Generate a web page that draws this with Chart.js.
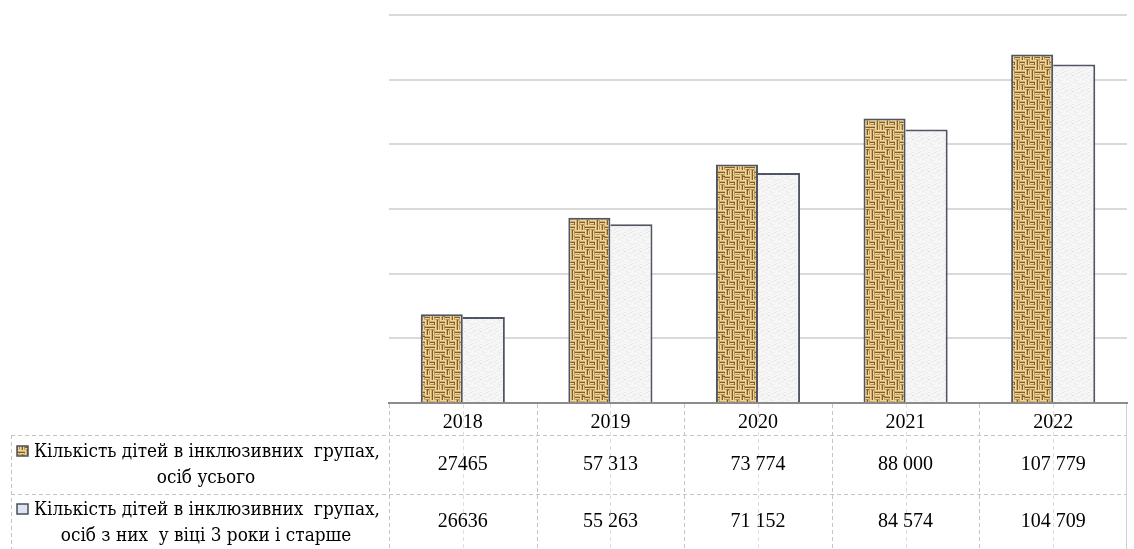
<!DOCTYPE html>
<html>
<head>
<meta charset="utf-8">
<script src="https://cdn.jsdelivr.net/npm/chart.js@4.4.1/dist/chart.umd.min.js"></script>
<style>
  html, body { margin: 0; padding: 0; background: #ffffff; }
  #wrap { width: 1134px; height: 549px; position: relative; }
</style>
</head>
<body>
<div id="wrap"><canvas id="c" width="1134" height="549"></canvas></div>
<script>
// Years shown along the category axis and in the table header
const years = ['2018', '2019', '2020', '2021', '2022'];
// Children in inclusive groups, total
const totalKids = [27465, 57313, 73774, 88000, 107779];
// Of them, aged 3 and older
const olderKids = [26636, 55263, 71152, 84574, 104709];
// Whether a table cell groups its thousands with a space
const groupDigits = [false, true, true, true, true];
// Row captions of the data table (two lines each)
const seriesNames = [
  ['Кількість дітей в інклюзивних  групах,', 'осіб усього'],
  ['Кількість дітей в інклюзивних  групах,', 'осіб з них  у віці 3 роки і старше']
];
// Value axis ticks
const yMax = 120000;
const yStep = 20000;

const SERIF = '"Liberation Serif", "DejaVu Serif", serif';
const CAPTION_FONT = '"DejaVu Serif", serif';

function fmt(v, group) {
  const s = String(v);
  return group ? s.replace(/\B(?=(\d{3})+(?!\d))/g, ' ') : s;
}

// Woven burlap fill: a 20px tile of short strands over a tan ground
function burlapPattern() {
  const c = document.createElement('canvas');
  c.width = 20; c.height = 20;
  const g = c.getContext('2d');
  g.fillStyle = '#d2ad69';
  g.fillRect(0, 0, 20, 20);
  const light = '#efd6a0', dark = '#7f5d2b', mid = '#b58f4e';
  function horiz(ox, oy) {
    g.fillStyle = light; g.fillRect(ox, oy, 5, 1); g.fillRect(ox, oy + 3, 4, 1);
    g.fillStyle = dark; g.fillRect(ox, oy + 2, 5, 1);
    g.fillStyle = mid; g.fillRect(ox + 1, oy + 4, 3, 1);
  }
  function vert(ox, oy) {
    g.fillStyle = light; g.fillRect(ox, oy, 1, 5); g.fillRect(ox + 3, oy + 1, 1, 4);
    g.fillStyle = dark; g.fillRect(ox + 2, oy, 1, 5);
    g.fillStyle = mid; g.fillRect(ox + 4, oy + 1, 1, 3);
  }
  const layout = [
    'hvhv', 'vhhv', 'hvvh', 'vhvh'
  ];
  layout.forEach((row, j) => {
    [...row].forEach((k, i) => (k === 'h' ? horiz : vert)(i * 5, j * 5));
  });
  g.fillStyle = dark;
  g.fillRect(7, 9, 2, 1); g.fillRect(14, 3, 1, 2); g.fillRect(3, 16, 2, 1);
  return g.createPattern(c, 'repeat');
}

// Pale speckled fill
function speckPattern() {
  const c = document.createElement('canvas');
  c.width = 16; c.height = 16;
  const g = c.getContext('2d');
  g.fillStyle = '#f6f6f6';
  g.fillRect(0, 0, 16, 16);
  const dots = [[1,2],[5,0],[9,3],[13,1],[3,6],[7,8],[11,6],[15,9],
                [0,11],[4,13],[8,12],[12,14],[2,15],[10,10],[14,4],[6,4]];
  g.fillStyle = '#e2e2e2';
  dots.forEach(([x, y]) => g.fillRect(x, y, 1, 1));
  g.fillStyle = '#ebebeb';
  dots.forEach(([x, y]) => g.fillRect((x + 3) % 16, (y + 7) % 16, 2, 1));
  return g.createPattern(c, 'repeat');
}

const burlap = burlapPattern();
const speck = speckPattern();

// Draws text starting at x, scaled horizontally by sx
function stretchText(ctx, text, x, y, sx) {
  ctx.save();
  ctx.translate(x, y);
  ctx.scale(sx, 1);
  ctx.fillText(text, 0, 0);
  ctx.restore();
}

// Data table under the plot, aligned with the category scale
const dataTable = {
  id: 'dataTable',
  afterDraw(chart) {
    const ctx = chart.ctx;
    const xs = chart.scales.x;
    const n = years.length;
    const cw = (xs.right - xs.left) / n;
    const top = xs.top;          // axis line
    const yHead = 435;           // below the year row
    const yMid = 494;            // between the two series rows
    const bottom = 549;
    const labelLeft = 11;

    ctx.save();
    // dashed rules
    ctx.strokeStyle = '#c4c4c4';
    ctx.lineWidth = 1;
    ctx.setLineDash([4, 3]);
    ctx.beginPath();
    ctx.moveTo(labelLeft, yHead + 0.5); ctx.lineTo(xs.right, yHead + 0.5);
    ctx.moveTo(labelLeft, yMid + 0.5); ctx.lineTo(xs.right, yMid + 0.5);
    ctx.moveTo(labelLeft + 0.5, yHead); ctx.lineTo(labelLeft + 0.5, bottom);
    for (let i = 0; i < n; i++) {
      const x = Math.round(xs.left + i * cw) + 0.5;
      ctx.moveTo(x, top + 1); ctx.lineTo(x, bottom);
    }
    ctx.stroke();
    // lighter rules through the middle of each column
    ctx.strokeStyle = '#dedede';
    ctx.beginPath();
    for (let i = 0; i < n; i++) {
      const x = Math.round(xs.getPixelForValue(i)) + 0.5;
      ctx.moveTo(x, top + 1); ctx.lineTo(x, bottom);
    }
    ctx.stroke();
    ctx.setLineDash([]);
    // right border
    ctx.strokeStyle = '#d0d0d0';
    ctx.beginPath();
    ctx.moveTo(Math.round(xs.right) - 0.5, top + 1);
    ctx.lineTo(Math.round(xs.right) - 0.5, bottom);
    ctx.stroke();

    // header and values
    ctx.fillStyle = '#000000';
    ctx.font = '20px ' + SERIF;
    ctx.textAlign = 'center';
    ctx.textBaseline = 'middle';
    const rows = [totalKids, olderKids];
    const rowY = [465, 522];
    for (let i = 0; i < n; i++) {
      const x = xs.getPixelForValue(i);
      ctx.fillText(years[i], x, 423);
      rows.forEach((vals, r) => ctx.fillText(fmt(vals[i], groupDigits[i]), x, rowY[r]));
    }

    // row captions with series keys
    ctx.font = '18px ' + CAPTION_FONT;
    const fills = [burlap, '#dde6f0'];
    const lineY = [[452, 478], [510, 536]];
    const textLeft = 34, textWidth = 346;
    rows.forEach((_, r) => {
      const [l1, l2] = seriesNames[r];
      ctx.textAlign = 'left';
      const sx = textWidth / ctx.measureText(l1).width;
      const ky = lineY[r][0] - 6;
      ctx.fillStyle = fills[r];
      ctx.fillRect(17, ky, 11, 10);
      ctx.strokeStyle = '#4a4f58';
      ctx.lineWidth = 1.5;
      ctx.strokeRect(17, ky, 11, 10);
      ctx.fillStyle = '#000000';
      stretchText(ctx, l1, textLeft, lineY[r][0], sx);
      const w2 = ctx.measureText(l2).width * sx;
      stretchText(ctx, l2, 206 - w2 / 2, lineY[r][1], sx);
    });
    ctx.restore();
  }
};

function build() {
  new Chart(document.getElementById('c'), {
    type: 'bar',
    data: {
      labels: years,
      datasets: [
        {
          label: seriesNames[0].join(' '),
          data: totalKids,
          backgroundColor: burlap,
          borderColor: '#4f5561',
          borderWidth: { top: 2, left: 2, right: 2, bottom: 0 }
        },
        {
          label: seriesNames[1].join(' '),
          data: olderKids,
          backgroundColor: speck,
          borderColor: '#4f5561',
          borderWidth: { top: 2, left: 0, right: 2, bottom: 0 }
        }
      ]
    },
    options: {
      responsive: false,
      animation: false,
      devicePixelRatio: 1,
      layout: { padding: { left: 389, right: 7, top: 15, bottom: 146 } },
      datasets: { bar: { categoryPercentage: 0.57, barPercentage: 1.0 } },
      plugins: { legend: { display: false }, tooltip: { enabled: false } },
      scales: {
        x: {
          grid: { display: false },
          ticks: { display: false },
          border: { display: true, color: '#8c8c8c', width: 2 },
          afterFit(s) { s.height = 0; }
        },
        y: {
          min: 0,
          max: yMax,
          ticks: { display: false, stepSize: yStep },
          grid: { color: '#d9d9d9', lineWidth: 2, drawTicks: false },
          border: { display: false },
          afterFit(s) { s.width = 0; }
        }
      }
    },
    plugins: [dataTable]
  });
}

Promise.all([
  document.fonts.load('20px "Liberation Serif"', 'Кількість 2018'),
  document.fonts.load('18px "DejaVu Serif"', 'Кількість')
]).then(build, build);
</script>
</body>
</html>
